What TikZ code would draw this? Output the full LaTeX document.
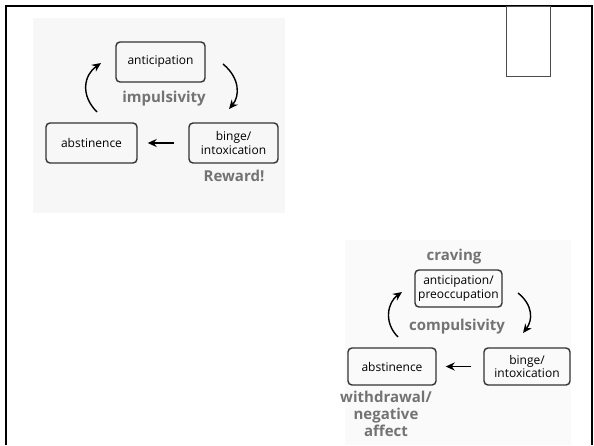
\documentclass[tikz,border=0pt]{standalone}
\usepackage{fontspec}
\setmainfont{Open Sans}
\usetikzlibrary{arrows.meta}
\begin{document}
\begin{tikzpicture}[x=1pt,y=-1pt,
  box/.style={draw=black!80,line width=1.4pt,rounded corners=4pt,align=center,font=\fontsize{12}{13.5}\selectfont,inner sep=0pt},
  lab/.style={text=black!55,font=\bfseries\fontsize{15}{16}\selectfont,align=center,inner sep=0pt},
  flow/.style={line width=1.4pt,-{Stealth[length=9pt,width=8pt]}}]
\useasboundingbox (0,0) rectangle (594,445);
\fill[white] (0,0) rectangle (594,445);
% panels
\fill[black!3] (33,18) rectangle (285,213);
\fill[black!2] (345,240) rectangle (571,445);
% frame
\draw[line width=2pt] (6,445) -- (6,6) -- (592,6) -- (592,445);
\draw[black!70,line width=1pt] (506,6) rectangle (550,76);
% left diagram
\node[box,minimum width=89pt,minimum height=40pt] (a1) at (160.5,62) {anticipation};
\node[box,minimum width=91pt,minimum height=40pt] (ab1) at (91.5,143) {abstinence};
\node[box,minimum width=89pt,minimum height=40pt] (b1) at (233.5,143) {binge/\\intoxication};
\node[lab] (imp) at (164,99) {impulsivity};
\node[lab] (rew) at (234,176) {Reward!};
\coordinate (l1s) at (97,112);
\coordinate (l1e) at (101,63);
\coordinate (r1s) at (223,64);
\coordinate (r1e) at (229,109);
\draw[flow] (l1s) .. controls (80,95) and (84,75) .. (l1e);
\draw[flow] (r1s) .. controls (240,78) and (240,96) .. (r1e);
\draw[flow] (b1.west)+(-14,0) coordinate (s1) (s1) -- ([xshift=10pt]ab1.east);
% right diagram
\node[lab] (crav) at (454,257) {craving};
\node[box,minimum width=87pt,minimum height=37pt] (a2) at (458.5,288.5) {anticipation/\\preoccupation};
\node[lab] (comp) at (457,327) {compulsivity};
\node[box,minimum width=88pt,minimum height=37pt] (ab2) at (392,366.5) {abstinence};
\node[box,minimum width=86pt,minimum height=37pt] (b2) at (527,366.5) {binge/\\intoxication};
\node[lab,font=\bfseries\fontsize{15}{17}\selectfont] (wd) at (386,414) {withdrawal/\\negative\\affect};
\coordinate (l2s) at (398,337);
\coordinate (l2e) at (402,292);
\coordinate (r2s) at (518,293);
\coordinate (r2e) at (523,333);
\draw[flow] (l2s) .. controls (383,322) and (388,302) .. (l2e);
\draw[flow] (r2s) .. controls (533,305) and (533,320) .. (r2e);
\draw[flow] (b2.west)+(-12,0) coordinate (s2) (s2) -- ([xshift=9pt]ab2.east);
\end{tikzpicture}
\end{document}
